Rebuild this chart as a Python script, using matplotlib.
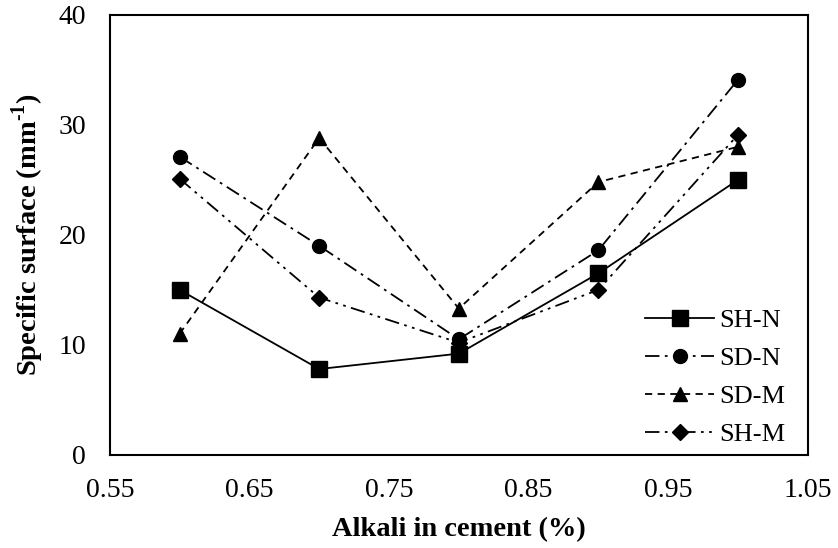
import matplotlib.pyplot as plt

plt.rcParams["font.family"] = ["Liberation Serif", "DejaVu Serif"]
plt.rcParams["mathtext.fontset"] = "custom"
plt.rcParams["mathtext.rm"] = "Liberation Serif"
plt.rcParams["mathtext.bf"] = "Liberation Serif:bold"

alkali = [0.6, 0.7, 0.8, 0.9, 1.0]
sh_n = [15.0, 7.8, 9.2, 16.5, 25.0]
sd_n = [27.1, 19.0, 10.5, 18.6, 34.1]
sd_m = [11.0, 28.8, 13.3, 24.8, 28.0]
sh_m = [25.1, 14.3, 10.2, 15.0, 29.1]
series_names = ["SH-N", "SD-N", "SD-M", "SH-M"]

fig = plt.figure(figsize=(8.38, 5.48), dpi=100)
ax = fig.add_axes([0.131, 0.170, 0.833, 0.803])

ax.plot(alkali, sh_n, color="black", lw=1.3, ls="-", marker="s", ms=11,
        label=series_names[0])
ax.plot(alkali, sd_n, color="black", lw=1.3, ls=(0, (8, 3, 1.5, 3)), marker="o", ms=10,
        label=series_names[1])
ax.plot(alkali, sd_m, color="black", lw=1.3, ls=(0, (4, 3)), marker="^", ms=10,
        label=series_names[2])
ax.plot(alkali, sh_m, color="black", lw=1.3, ls=(0, (8, 3, 1.5, 3, 1.5, 3)), marker="D", ms=8.5,
        label=series_names[3])

ax.set_xlim(0.55, 1.05)
ax.set_ylim(0, 40)
ax.set_xticks([0.55, 0.65, 0.75, 0.85, 0.95, 1.05])
ax.set_xticklabels(["0.55", "0.65", "0.75", "0.85", "0.95", "1.05"])
ax.set_yticks([0, 10, 20, 30, 40])
ax.tick_params(length=0, labelsize=20, pad=17)

for side in ax.spines.values():
    side.set_linewidth(1.5)

ax.set_xlabel("Alkali in cement (%)", fontsize=20.5, fontweight="bold", labelpad=10)
ax.set_ylabel("Specific surface (mm$^{\\mathbf{\\text{-}1}}$)", fontsize=20.5, fontweight="bold",
              labelpad=9)

ax.legend(loc="lower right", bbox_to_anchor=(0.983, -0.004), frameon=False, fontsize=19,
          handlelength=2.6, handletextpad=0.2, labelspacing=0.55, borderaxespad=0.0)

fig.savefig("out.png", dpi=100)
